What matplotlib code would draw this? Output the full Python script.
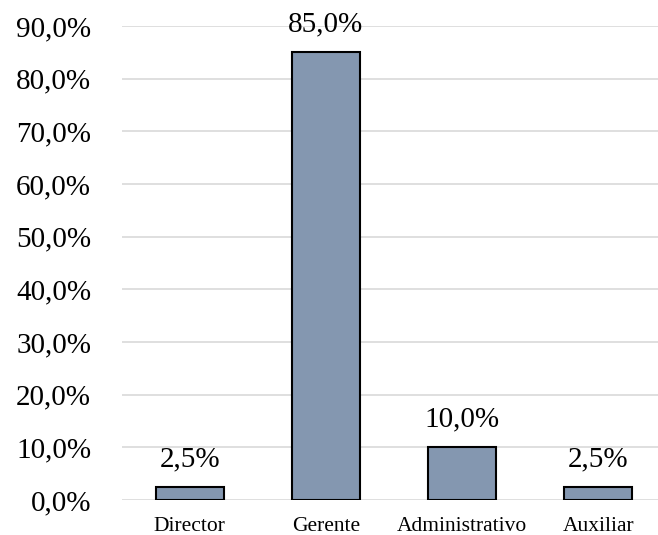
import matplotlib
matplotlib.use('Agg')
import matplotlib.pyplot as plt
import numpy as np

# job categories and share of respondents (%)
categories = ['Director', 'Gerente', 'Administrativo', 'Auxiliar']
percentages = [2.5, 85.0, 10.0, 2.5]
y_ticks = [0, 10, 20, 30, 40, 50, 60, 70, 80, 90]

plt.rcParams['font.family'] = ['Liberation Serif', 'DejaVu Serif']

fig = plt.figure(figsize=(6.58, 5.35), dpi=100)
ax = fig.add_axes([0.185, 0.0654, 0.815, 0.886])

x = np.arange(len(categories))
bars = ax.bar(x, percentages, width=0.5, color='#8497B0', edgecolor='black',
              linewidth=1.5, zorder=3)

for xi, v in zip(x, percentages):
    ax.text(xi, v + 2.8, f'{v:.1f}%'.replace('.', ','), ha='center', va='bottom',
            fontsize=21)

ax.set_ylim(0, 90)
ax.set_xlim(-0.5, 3.44)
ax.set_yticks(y_ticks)
ax.set_yticklabels([f'{t:.1f}%'.replace('.', ',') for t in y_ticks], fontsize=21)
ax.set_xticks(x)
ax.set_xticklabels(categories, fontsize=15.5)
ax.tick_params(axis='both', length=0)
ax.tick_params(axis='y', pad=22)
ax.tick_params(axis='x', pad=12)
ax.grid(axis='y', color='#d9d9d9', linewidth=1.2, zorder=0)
for s in ax.spines.values():
    s.set_visible(False)

fig.savefig('out.png', dpi=100)
